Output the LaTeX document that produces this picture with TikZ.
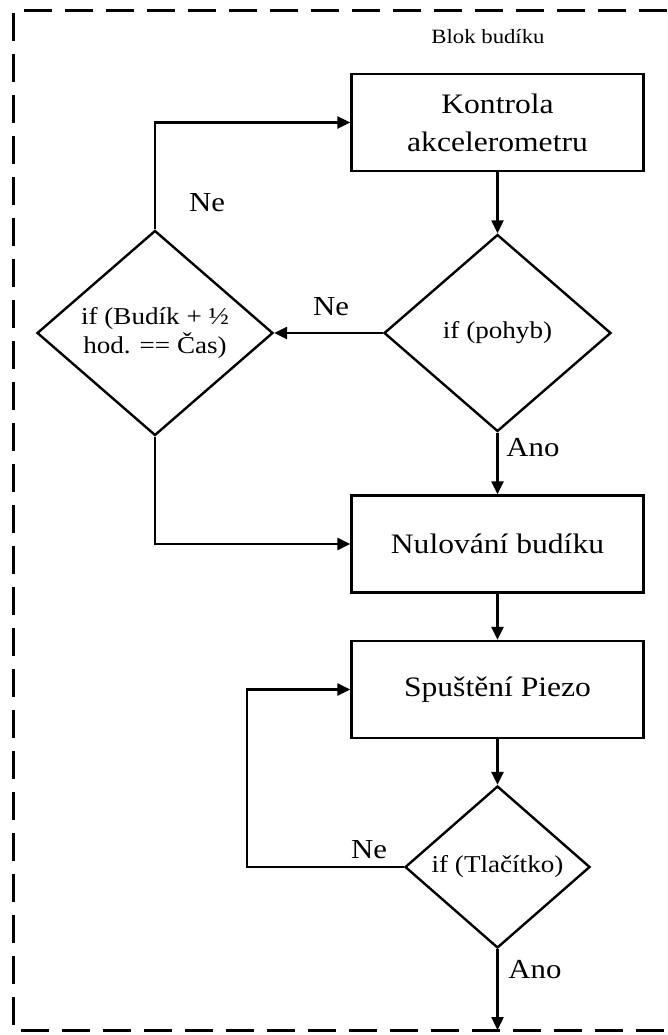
\documentclass[tikz,border=0pt]{standalone}
\usepackage{fontspec}
\setmainfont[FakeStretch=1.12]{Liberation Serif}
\usetikzlibrary{shapes.geometric,arrows.meta}
\begin{document}
\begin{tikzpicture}[x=1pt,y=-1pt,
  line width=2.4pt,
  boxnode/.style={draw,rectangle,minimum width=292pt,minimum height=97pt,inner sep=0pt,align=center,
    font=\fontsize{28.2}{38}\selectfont},
  decnode/.style={draw,diamond,inner sep=0pt,align=center,font=\fontsize{24.2}{29}\selectfont},
  lbl/.style={font=\fontsize{27.5}{30}\selectfont,inner sep=0pt},
  arr/.style={-{Triangle[length=13pt,width=12pt]}},
  frame/.style={line width=3pt,dash pattern=on 28pt off 13pt}]
\useasboundingbox (0,0) rectangle (667,1035);
\draw[frame] (667,11) -- (13,11) -- (13,1030) -- (667,1030);
\node[font=\fontsize{20.3}{24}\selectfont] (title) at (488,37) {Blok budíku};
\node[boxnode] (b1) at (497.5,122.5) {Kontrola\\akcelerometru};
\node[decnode,minimum width=227pt,minimum height=197pt] (d2) at (497.5,333) {if (pohyb)};
\node[decnode,minimum width=236pt,minimum height=205pt] (d1) at (155,333) {if (Budík + ½\\hod. == Čas)};
\node[boxnode] (b2) at (497.5,544) {Nulování budíku};
\node[boxnode] (b3) at (497.5,689.5) {Spuštění Piezo};
\node[decnode,minimum width=185pt,minimum height=162pt] (d3) at (497.5,867) {if (Tlačítko)};
\coordinate (loop) at (247,867);
\coordinate (out) at (497.5,1030);
\draw[arr] (d1.north) |- (b1.west);
\draw[arr] (b1.south) -- (d2.north);
\draw[arr] (d2.west) -- (d1.east);
\draw[arr] (d2.south) -- (b2.north);
\draw[arr] (d1.south) |- (b2.west);
\draw[arr] (b2.south) -- (b3.north);
\draw[arr] (b3.south) -- (d3.north);
\draw[arr] (d3.west) -- (loop) |- (b3.west);
\draw[arr] (d3.south) -- (out);
\node[lbl] (ne1) at (207,203) {Ne};
\node[lbl] (ne2) at (331,307) {Ne};
\node[lbl] (ano1) at (533,448) {Ano};
\node[lbl] (ne3) at (369,850) {Ne};
\node[lbl] (ano2) at (535,970) {Ano};
\end{tikzpicture}
\end{document}
